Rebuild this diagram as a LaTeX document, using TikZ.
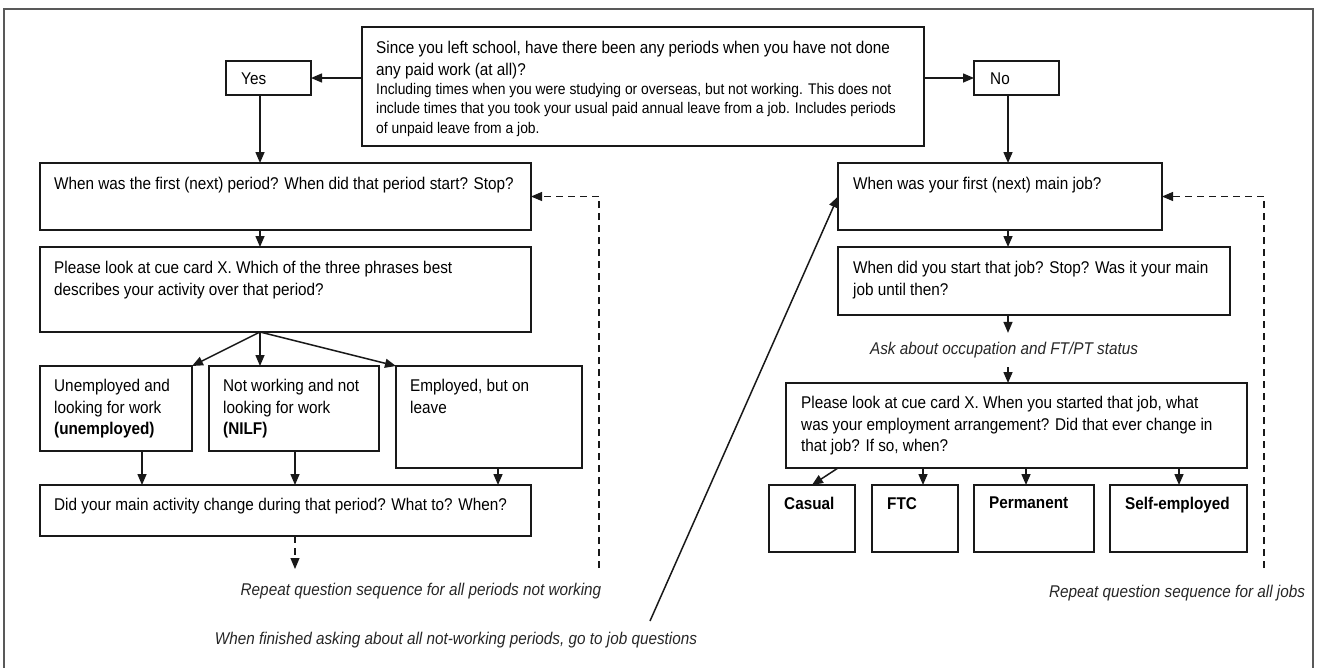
\documentclass[tikz,border=0pt]{standalone}
\usepackage{fontspec}
\setmainfont{Liberation Sans}[FakeStretch=0.9]
\usetikzlibrary{arrows.meta,calc}
\begin{document}
\begin{tikzpicture}[x=1pt,y=-1pt,
  box/.style={draw=black!90, line width=1.3pt, anchor=north west, inner sep=0pt, outer sep=0pt},
  txt/.style={anchor=north west, inner sep=0pt, align=left, font=\fontsize{17}{21.5}\selectfont},
  smalltxt/.style={anchor=north west, inner sep=0pt, align=left, font=\fontsize{15.4}{19.5}\selectfont},
  btxt/.style={anchor=north west, inner sep=0pt, align=left, font=\fontsize{17}{21.5}\selectfont\bfseries},
  arr/.style={line width=1.5pt, draw=black!90, -{Triangle[length=11pt,width=9pt]}},
  darr/.style={line width=1.1pt, draw=black!90, dash pattern=on 7pt off 5pt, -{Triangle[length=11pt,width=9pt]}},
  note/.style={inner sep=0pt, font=\fontsize{17}{20}\selectfont\itshape, text=black!85}]
\useasboundingbox (0,0) rectangle (1317,667);
% frame
\draw[line width=1.3pt, black!65] (4,672) -- (4,9) -- (1313,9) -- (1313,672);
% spine coordinates
\coordinate (sL) at (260,0);
\coordinate (sR) at (1008,0);
% top question
\node[box, minimum width=562pt, minimum height=119pt] (Q) at (362,27) {};
\node[txt] (tQ1) at ($(Q.north west)+(14,14)$) {Since you left school, have there been any periods when you have not done\\any paid work (at all)?};
\node[smalltxt] (tQ2) at ($(Q.north west)+(14,56)$) {Including times when you were studying or overseas, but not working. This does not\\include times that you took your usual paid annual leave from a job. Includes periods\\of unpaid leave from a job.};
% yes / no
\node[box, minimum width=85pt, minimum height=34pt] (Yes) at (226,61) {};
\node[txt] (tYes) at ($(Yes.north west)+(15,12)$) {Yes};
\node[box, minimum width=85pt, minimum height=34pt] (No) at (974,61) {};
\node[txt] (tNo) at ($(No.north west)+(16,12)$) {No};
% left column
\node[box, minimum width=491pt, minimum height=67pt] (A) at (40,163) {};
\node[txt] (tA) at ($(A.north west)+(14,14)$) {When was the first (next) period? When did that period start? Stop?};
\node[box, minimum width=491pt, minimum height=85pt] (B) at (40,247) {};
\node[txt] (tB) at ($(B.north west)+(14,14)$) {Please look at cue card X. Which of the three phrases best\\describes your activity over that period?};
\node[box, minimum width=152pt, minimum height=85pt] (C1) at (40,366) {};
\node[txt] (tC1) at ($(C1.north west)+(14,13)$) {Unemployed and\\looking for work\\\textbf{(unemployed)}};
\node[box, minimum width=170pt, minimum height=85pt] (C2) at (209,366) {};
\node[txt] (tC2) at ($(C2.north west)+(14,13)$) {Not working and not\\looking for work\\\textbf{(NILF)}};
\node[box, minimum width=186pt, minimum height=102pt] (C3) at (396,366) {};
\node[txt] (tC3) at ($(C3.north west)+(14,13)$) {Employed, but on\\leave};
\node[box, minimum width=491pt, minimum height=51pt] (D) at (40,485) {};
\node[txt] (tD) at ($(D.north west)+(14,13)$) {Did your main activity change during that period? What to? When?};
% right column
\node[box, minimum width=324pt, minimum height=67pt] (E) at (838,163) {};
\node[txt] (tE) at ($(E.north west)+(15,14)$) {When was your first (next) main job?};
\node[box, minimum width=392pt, minimum height=68pt] (F) at (838,247) {};
\node[txt] (tF) at ($(F.north west)+(15,14)$) {When did you start that job? Stop? Was it your main\\job until then?};
\node[note, inner ysep=9pt] (nAsk) at (1004,350) {Ask about occupation and FT/PT status};
\node[box, minimum width=461pt, minimum height=85pt] (G) at (786,383) {};
\node[txt] (tG) at ($(G.north west)+(15,13)$) {Please look at cue card X. When you started that job, what\\was your employment arrangement? Did that ever change in\\that job? If so, when?};
\node[box, minimum width=86pt, minimum height=67pt] (H1) at (769,485) {};
\node[btxt] (tH1) at ($(H1.north west)+(15,12)$) {Casual};
\node[box, minimum width=86pt, minimum height=67pt] (H2) at (872,485) {};
\node[btxt] (tH2) at ($(H2.north west)+(15,12)$) {FTC};
\node[box, minimum width=120pt, minimum height=67pt] (H3) at (974,485) {};
\node[btxt] (tH3) at ($(H3.north west)+(15,12)$) {Permanent};
\node[box, minimum width=137pt, minimum height=67pt] (H4) at (1110,485) {};
\node[btxt] (tH4) at ($(H4.north west)+(15,12)$) {Self-employed};
% notes
\node[note] (nRepL) at (421,591) {Repeat question sequence for all periods not working};
\node[note] (nRepR) at (1177,593) {Repeat question sequence for all jobs};
\node[note] (nFin) at (456,640) {When finished asking about all not-working periods, go to job questions};
% free ends
\coordinate (dEnd) at (295,569);
\coordinate (rL) at (599,568);
\coordinate (rR) at (1264,568);
\coordinate (gL) at (650,621);
\coordinate (c1x) at (142,0);
\coordinate (c2x) at (295,0);
\coordinate (c3x) at (498,0);
\coordinate (h2x) at (923,0);
\coordinate (h3x) at (1026,0);
\coordinate (h4x) at (1179,0);
% connectors left
\draw[arr] (Yes.east -| Q.west) -- (Yes.east);
\draw[arr] (No.west -| Q.east) -- (No.west);
\draw[arr] (Yes.south -| sL) -- (A.north -| sL);
\draw[arr] (A.south -| sL) -- (B.north -| sL);
\draw[arr] (B.south -| sL) -- (C1.north east);
\draw[arr] (B.south -| sL) -- (C2.north -| sL);
\draw[arr] (B.south -| sL) -- (C3.north west);
\draw[arr] (C1.south -| c1x) -- (D.north -| c1x);
\draw[arr] (C2.south -| c2x) -- (D.north -| c2x);
\draw[arr] (C3.south -| c3x) -- (D.north -| c3x);
\draw[darr] (D.south -| dEnd) -- (dEnd);
\draw[darr] (rL) |- (A.east);
% connectors right
\draw[arr] (No.south -| sR) -- (E.north -| sR);
\draw[arr] (E.south -| sR) -- (F.north -| sR);
\draw[arr] (F.south -| sR) -- (nAsk.north -| sR);
\draw[arr] (nAsk.south -| sR) -- (G.north -| sR);
\draw[arr] ($(G.south west)+(52,0)$) -- (H1.north);
\draw[arr] (G.south -| h2x) -- (H2.north -| h2x);
\draw[arr] (G.south -| h3x) -- (H3.north -| h3x);
\draw[arr] (G.south -| h4x) -- (H4.north -| h4x);
\draw[darr] (rR) |- (E.east);
\draw[arr] (gL) -- (E.west);
\end{tikzpicture}
\end{document}
